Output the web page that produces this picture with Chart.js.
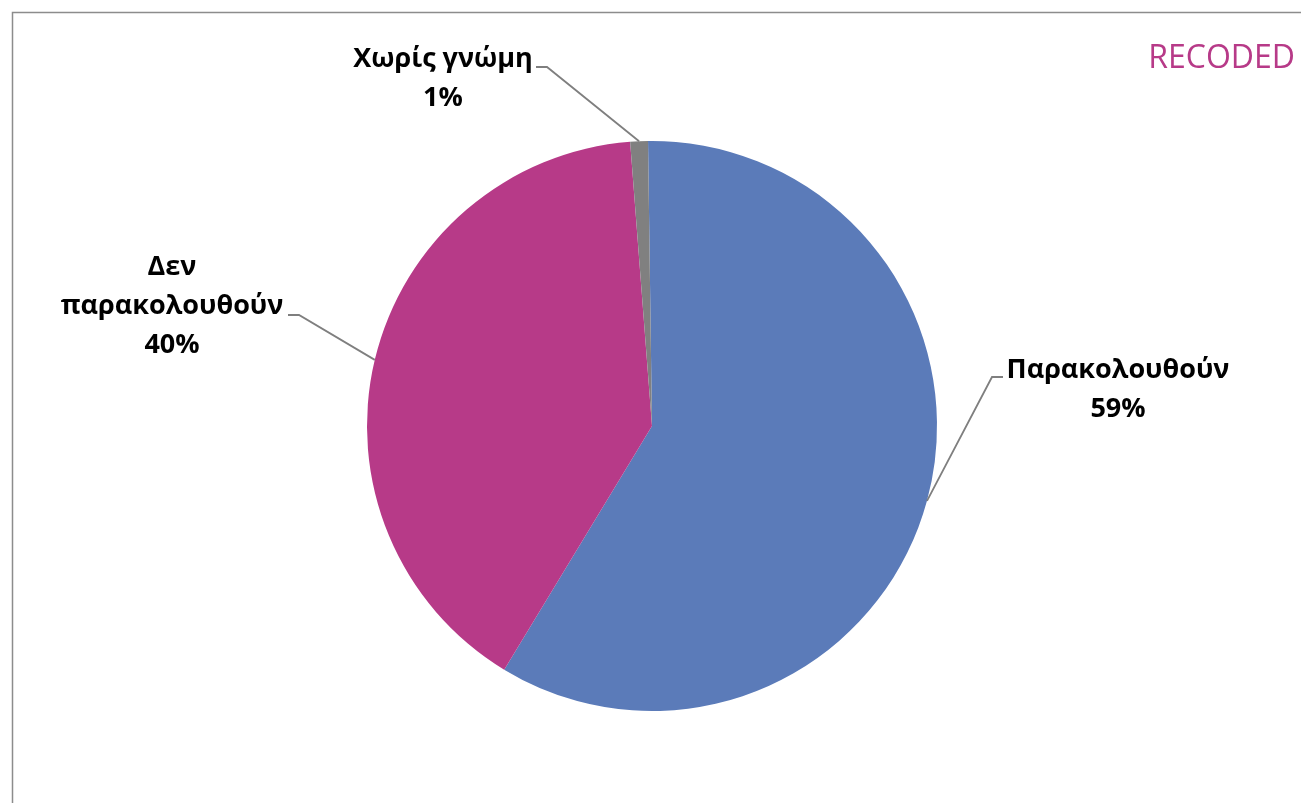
<!DOCTYPE html>
<html>
<head>
<meta charset="utf-8">
<script src="https://cdn.jsdelivr.net/npm/chart.js@4"></script>
<style>
  html, body { margin: 0; padding: 0; background: #fff; }
  canvas { display: block; }
</style>
</head>
<body>
<canvas id="pieChart" width="1301" height="803"></canvas>
<script>
// Données du graphique
const categories = ['Παρακολουθούν', 'Δεν παρακολουθούν', 'Χωρίς γνώμη'];
const shares = [58.9, 40.1, 1.0];
const percentLabels = ['59%', '40%', '1%'];
const sliceColors = ['#5B7BB9', '#B73A88', '#808080'];
const chartTitle = 'RECODED';

// Position des étiquettes (coude de la ligne de rappel + texte)
const labelLayout = [
    { wrap: false, elbowX: 992, endX: 1003, lineY: 377, textX: 1118, firstBaseline: 378 },
    { wrap: true,  elbowX: 299, endX: 288,  lineY: 315, textX: 172,  firstBaseline: 275 },
    { wrap: false, elbowX: 547, endX: 536,  lineY: 67,  textX: 443,  firstBaseline: 67 }
];
const lineGap = 39;

const labelPlugin = {
    id: 'pieLabels',
    beforeDraw(chart) {
        const ctx = chart.ctx;
        ctx.save();
        ctx.strokeStyle = '#8C8C8C';
        ctx.lineWidth = 1.5;
        ctx.strokeRect(12.5, 12.5, chart.width + 20, chart.height + 20);
        ctx.restore();
    },
    afterDatasetsDraw(chart) {
        const ctx = chart.ctx;
        const meta = chart.getDatasetMeta(0);
        ctx.save();
        meta.data.forEach((arc, i) => {
            const p = arc.getProps(['x', 'y', 'startAngle', 'endAngle', 'outerRadius'], true);
            const mid = (p.startAngle + p.endAngle) / 2;
            const px = p.x + Math.cos(mid) * p.outerRadius;
            const py = p.y + Math.sin(mid) * p.outerRadius;
            const L = labelLayout[i];

            // ligne de rappel
            ctx.strokeStyle = '#7F7F7F';
            ctx.lineWidth = 1.8;
            ctx.beginPath();
            ctx.moveTo(px, py);
            ctx.lineTo(L.elbowX, L.lineY);
            ctx.lineTo(L.endX, L.lineY);
            ctx.stroke();

            // texte
            const lines = (L.wrap ? categories[i].split(' ') : [categories[i]]).concat(percentLabels[i]);
            ctx.fillStyle = '#000';
            ctx.font = 'bold 27px "Open Sans"';
            ctx.textAlign = 'center';
            ctx.textBaseline = 'alphabetic';
            lines.forEach((t, k) => ctx.fillText(t, L.textX, L.firstBaseline + k * lineGap));
        });

        // titre
        ctx.fillStyle = '#B73A88';
        ctx.font = '32px "Open Sans"';
        ctx.textAlign = 'right';
        ctx.fillText(chartTitle, 1295, 68);
        ctx.restore();
    }
};

const ctx = document.getElementById('pieChart').getContext('2d');
new Chart(ctx, {
    type: 'pie',
    data: {
        labels: categories,
        datasets: [{
            data: shares,
            backgroundColor: sliceColors,
            borderWidth: 0
        }]
    },
    options: {
        responsive: false,
        animation: false,
        rotation: -0.8,
        layout: {
            padding: { left: 367, right: 364, top: 141, bottom: 92 }
        },
        plugins: {
            legend: { display: false },
            tooltip: { enabled: false },
            title: { display: false }
        }
    },
    plugins: [labelPlugin]
});
</script>
</body>
</html>
